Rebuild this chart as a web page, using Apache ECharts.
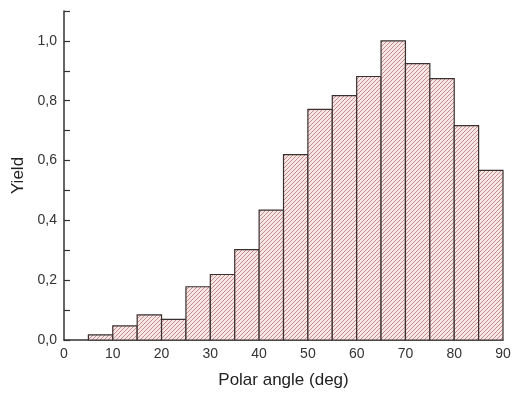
<!DOCTYPE html>
<html>
<head>
<meta charset="utf-8">
<script src="https://cdn.jsdelivr.net/npm/echarts@6/dist/echarts.min.js"></script>
<style>html,body{margin:0;padding:0;background:#fff}#c{width:514px;height:394px}</style>
</head>
<body>
<div id="c"></div>
<script>
var binStarts = [5,10,15,20,25,30,35,40,45,50,55,60,65,70,75,80,85];
var binWidth = 5;
var yields = [0.017,0.047,0.084,0.069,0.178,0.219,0.302,0.434,0.620,0.771,0.817,0.881,1.0,0.924,0.874,0.717,0.567];
var xTicks = [0,10,20,30,40,50,60,70,80,90];
var yTicks = [0,0.2,0.4,0.6,0.8,1.0];

function makeHatch(){
  var s = 4;
  var c = document.createElement('canvas');
  c.width = s; c.height = s;
  var g = c.getContext('2d');
  g.fillStyle = '#f7e6e6';
  g.fillRect(0,0,s,s);
  g.strokeStyle = '#c08080';
  g.lineWidth = 0.9;
  g.beginPath();
  g.moveTo(-1, s+1); g.lineTo(s+1, -1);
  g.moveTo(-1, 1); g.lineTo(1, -1);
  g.moveTo(s-1, s+1); g.lineTo(s+1, s-1);
  g.stroke();
  return c;
}
var hatch = makeHatch();

var data = binStarts.map(function(s,i){ return [s, s+binWidth, yields[i]]; });

var chart = echarts.init(document.getElementById('c'), null, {renderer:'canvas'});
chart.setOption({
  animation:false,
  backgroundColor:'#fff',
  grid:{left:64,right:11,top:11,bottom:54},
  xAxis:{
    type:'value', min:0, max:90, interval:10,
    name:'Polar angle (deg)', nameLocation:'middle', nameGap:32,
    nameTextStyle:{fontFamily:'Liberation Sans', fontSize:17, color:'#222'},
    axisLine:{show:true, lineStyle:{color:'#333', width:1.5}},
    axisTick:{show:false},
    axisLabel:{fontFamily:'Liberation Sans', fontSize:14, color:'#333', margin:7,
      formatter:function(v){ return xTicks.indexOf(v)>=0 ? String(v) : ''; }},
    splitLine:{show:false}
  },
  yAxis:{
    type:'value', min:0, max:1.1, interval:0.2,
    name:'Yield', nameLocation:'middle', nameGap:37, nameRotate:90,
    nameTextStyle:{fontFamily:'Liberation Sans', fontSize:17, color:'#222'},
    axisLine:{show:true, lineStyle:{color:'#333', width:1.5}},
    axisTick:{show:true, inside:true, length:6, lineStyle:{color:'#333', width:1.2}},
    minorTick:{show:true, splitNumber:2, length:6, lineStyle:{color:'#333', width:1.2}},
    axisLabel:{fontFamily:'Liberation Sans', fontSize:14, color:'#333', margin:7,
      formatter:function(v){ return yTicks.some(function(t){return Math.abs(t-v)<1e-9;}) ? v.toFixed(1).replace('.',',') : ''; }},
    splitLine:{show:false}
  },
  series:[{
    type:'custom',
    data:data,
    encode:{x:[0,1], y:2},
    renderItem:function(params, api){
      var p0 = api.coord([api.value(0), 0]);
      var p1 = api.coord([api.value(1), api.value(2)]);
      return {
        type:'rect',
        shape:{x:p0[0], y:p1[1], width:p1[0]-p0[0], height:p0[1]-p1[1]},
        style:{fill:{image:hatch, repeat:'repeat'}, stroke:'#3a3030', lineWidth:1.2}
      };
    }
  }]
});
</script>
</body>
</html>
